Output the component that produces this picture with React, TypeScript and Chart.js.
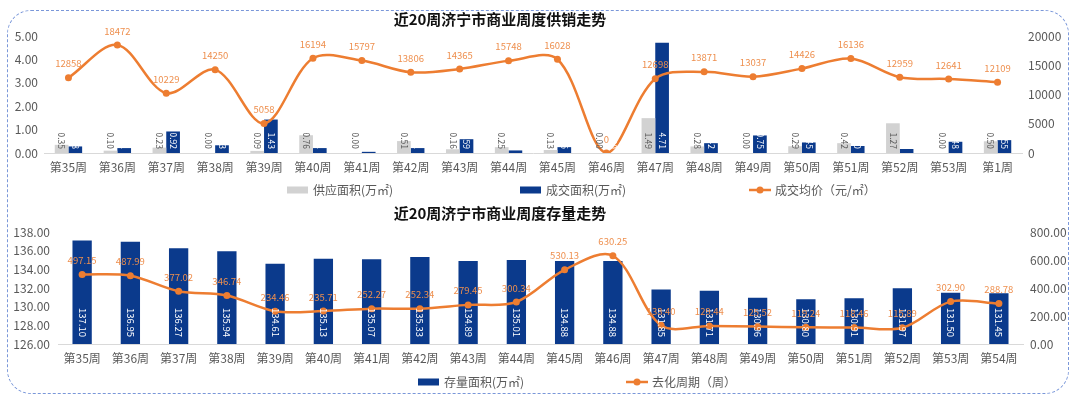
import React, { useEffect, useRef } from "react";
import { Chart, registerables } from "chart.js";

Chart.register(...registerables);

const FONT = '"Noto Sans CJK SC", "Noto Sans", sans-serif';
Chart.defaults.font.family = FONT;

// ---------- data: top chart ----------
const topWeeks = [
  "第35周", "第36周", "第37周", "第38周", "第39周", "第40周", "第41周", "第42周", "第43周", "第44周",
  "第45周", "第46周", "第47周", "第48周", "第49周", "第50周", "第51周", "第52周", "第53周", "第1周",
];
const supplyArea = [0.35, 0.10, 0.23, 0.00, 0.09, 0.76, 0.00, 0.51, 0.16, 0.25, 0.13, 0.00, 1.49, 0.28, 0.00, 0.29, 0.42, 1.27, 0.00, 0.50];
const dealArea = [0.28, 0.21, 0.92, 0.33, 1.43, 0.21, 0.05, 0.21, 0.59, 0.11, 0.25, 0.00, 4.71, 0.42, 0.75, 0.45, 0.30, 0.17, 0.48, 0.55];
const avgPrice = [12858, 18472, 10229, 14250, 5058, 16194, 15797, 13806, 14365, 15748, 16028, 0, 12698, 13871, 13037, 14426, 16136, 12959, 12641, 12109];

// ---------- data: bottom chart ----------
const bottomWeeks = [
  "第35周", "第36周", "第37周", "第38周", "第39周", "第40周", "第41周", "第42周", "第43周", "第44周",
  "第45周", "第46周", "第47周", "第48周", "第49周", "第50周", "第51周", "第52周", "第53周", "第54周",
];
const stockArea = [137.10, 136.95, 136.27, 135.94, 134.61, 135.13, 135.07, 135.33, 134.89, 135.01, 134.88, 134.88, 131.85, 131.71, 130.96, 130.80, 130.91, 131.97, 131.50, 131.45];
const sellCycle = [497.15, 487.99, 377.02, 346.74, 234.46, 235.71, 252.27, 252.34, 279.45, 300.34, 530.13, 630.25, 133.40, 129.44, 125.52, 119.24, 118.46, 115.89, 302.90, 288.78];

const topTitle = "近20周济宁市商业周度供销走势";
const bottomTitle = "近20周济宁市商业周度存量走势";

const NAVY = "#0B3A8C";
const GRAY = "#D2D2D2";
const ORANGE = "#ED7D31";
const LABEL_ORANGE = "#EE8F4E";
const TEXT = "#595959";

type LabelCfg = {
  kind: "bar" | "line";
  color: string;
  size: number;
  offset: number;
  format: (v: number) => string;
};

function makeLabelPlugin(items: (LabelCfg | null)[]) {
  return {
    id: "valueLabels",
    afterDatasetsDraw(chart: any) {
      const ctx = chart.ctx;
      chart.data.datasets.forEach((ds: any, i: number) => {
        const cfg = items[i];
        if (!cfg) return;
        const meta = chart.getDatasetMeta(i);
        meta.data.forEach((el: any, j: number) => {
          const text = cfg.format(ds.data[j]);
          ctx.save();
          ctx.font = `${cfg.size}px ${FONT}`;
          ctx.fillStyle = cfg.color;
          if (cfg.kind === "bar") {
            ctx.translate(el.x, chart.chartArea.bottom - cfg.offset);
            ctx.rotate(Math.PI / 2);
            ctx.textAlign = "right";
            ctx.textBaseline = "middle";
            ctx.fillText(text, 0, 0);
          } else {
            ctx.textAlign = "center";
            ctx.textBaseline = "middle";
            ctx.fillText(text, el.x, el.y - cfg.offset);
          }
          ctx.restore();
        });
      });
    },
  };
}

type LegendItem = { datasetIndex: number; kind: "box" | "line"; x: number };

function makeDecorPlugin(title: string, titleX: number, titleY: number, legend: LegendItem[], legendY: number) {
  return {
    id: "decor",
    afterDraw(chart: any) {
      const ctx = chart.ctx;
      ctx.save();
      ctx.font = `bold 15px ${FONT}`;
      ctx.fillStyle = "#111111";
      ctx.textAlign = "center";
      ctx.textBaseline = "middle";
      ctx.fillText(title, titleX, titleY);
      ctx.font = `12px ${FONT}`;
      ctx.textAlign = "left";
      legend.forEach((it) => {
        const ds = chart.data.datasets[it.datasetIndex];
        if (it.kind === "box") {
          ctx.fillStyle = ds.backgroundColor;
          ctx.fillRect(it.x, legendY - 3.5, 21, 7);
          ctx.fillStyle = TEXT;
          ctx.fillText(ds.label, it.x + 26, legendY + 0.5);
        } else {
          ctx.strokeStyle = ds.borderColor;
          ctx.lineWidth = 2.5;
          ctx.beginPath();
          ctx.moveTo(it.x, legendY);
          ctx.lineTo(it.x + 22, legendY);
          ctx.stroke();
          ctx.fillStyle = ds.borderColor;
          ctx.beginPath();
          ctx.arc(it.x + 11, legendY, 3.5, 0, Math.PI * 2);
          ctx.fill();
          ctx.fillStyle = TEXT;
          ctx.fillText(ds.label, it.x + 26, legendY + 0.5);
        }
      });
      ctx.restore();
    },
  };
}

const tickFont = { size: 12, family: FONT };

function TopChart() {
  const ref = useRef<HTMLCanvasElement | null>(null);
  useEffect(() => {
    if (!ref.current) return;
    const chart = new Chart(ref.current, {
      type: "bar",
      data: {
        labels: topWeeks,
        datasets: [
          {
            type: "bar",
            label: "供应面积(万㎡)",
            data: supplyArea,
            backgroundColor: GRAY,
            yAxisID: "y",
            order: 1,
            categoryPercentage: 0.56,
            barPercentage: 1,
          },
          {
            type: "bar",
            label: "成交面积(万㎡)",
            data: dealArea,
            backgroundColor: NAVY,
            yAxisID: "y",
            order: 1,
            categoryPercentage: 0.56,
            barPercentage: 1,
          },
          {
            type: "line",
            label: "成交均价（元/㎡）",
            data: avgPrice,
            borderColor: ORANGE,
            backgroundColor: ORANGE,
            borderWidth: 2.5,
            pointRadius: 3.5,
            pointBackgroundColor: ORANGE,
            pointBorderWidth: 0,
            tension: 0.33,
            yAxisID: "y1",
            order: 0,
          },
        ],
      } as any,
      options: {
        responsive: false,
        animation: false,
        layout: { padding: { top: 36, left: 0, right: 0, bottom: 0 } },
        plugins: { legend: { display: false }, title: { display: false }, tooltip: { enabled: false } },
        scales: {
          x: {
            grid: { display: false, drawTicks: false },
            border: { display: true, color: "#D9D9D9", width: 1 },
            ticks: { color: TEXT, font: tickFont, padding: 7, maxRotation: 0, autoSkip: false },
            afterFit: (s: any) => { s.height = 47; },
          },
          y: {
            position: "left",
            min: 0,
            max: 5,
            grid: { display: false, drawTicks: false },
            border: { display: false },
            ticks: { stepSize: 1, color: TEXT, font: tickFont, padding: 6, callback: (v: any) => Number(v).toFixed(2) },
            afterFit: (s: any) => { s.width = 44; },
          },
          y1: {
            position: "right",
            min: 0,
            max: 20000,
            grid: { display: false, drawTicks: false },
            border: { display: false },
            ticks: { stepSize: 5000, color: TEXT, font: tickFont, padding: 6, callback: (v: any) => String(v) },
            afterFit: (s: any) => { s.width = 58; },
          },
        },
      } as any,
      plugins: [
        makeLabelPlugin([
          { kind: "bar", color: TEXT, size: 8.5, offset: 4, format: (v) => v.toFixed(2) },
          { kind: "bar", color: "#FFFFFF", size: 8.5, offset: 4, format: (v) => v.toFixed(2) },
          { kind: "line", color: LABEL_ORANGE, size: 9.5, offset: 14, format: (v) => String(Math.round(v)) },
        ]),
        makeDecorPlugin(topTitle, 500, 19, [
          { datasetIndex: 0, kind: "box", x: 287 },
          { datasetIndex: 1, kind: "box", x: 520 },
          { datasetIndex: 2, kind: "line", x: 749 },
        ], 190),
      ],
    });
    return () => chart.destroy();
  }, []);
  return <canvas ref={ref} width={1080} height={200} style={{ position: "absolute", left: 0, top: 0, width: 1080, height: 200 }} />;
}

function BottomChart() {
  const ref = useRef<HTMLCanvasElement | null>(null);
  useEffect(() => {
    if (!ref.current) return;
    const chart = new Chart(ref.current, {
      type: "bar",
      data: {
        labels: bottomWeeks,
        datasets: [
          {
            type: "bar",
            label: "存量面积(万㎡)",
            data: stockArea,
            backgroundColor: NAVY,
            yAxisID: "y",
            order: 1,
            categoryPercentage: 0.4,
            barPercentage: 1,
          },
          {
            type: "line",
            label: "去化周期（周）",
            data: sellCycle,
            borderColor: ORANGE,
            backgroundColor: ORANGE,
            borderWidth: 2.5,
            pointRadius: 3.5,
            pointBackgroundColor: ORANGE,
            pointBorderWidth: 0,
            tension: 0.33,
            yAxisID: "y1",
            order: 0,
          },
        ],
      } as any,
      options: {
        responsive: false,
        animation: false,
        layout: { padding: { top: 32, left: 0, right: 0, bottom: 0 } },
        plugins: { legend: { display: false }, title: { display: false }, tooltip: { enabled: false } },
        scales: {
          x: {
            grid: { display: false, drawTicks: false },
            border: { display: true, color: "#D9D9D9", width: 1 },
            ticks: { color: TEXT, font: tickFont, padding: 7, maxRotation: 0, autoSkip: false },
            afterFit: (s: any) => { s.height = 55; },
          },
          y: {
            position: "left",
            min: 126,
            max: 138,
            grid: { display: false, drawTicks: false },
            border: { display: false },
            ticks: { stepSize: 2, color: TEXT, font: tickFont, padding: 8, callback: (v: any) => Number(v).toFixed(2) },
            afterFit: (s: any) => { s.width = 58; },
          },
          y1: {
            position: "right",
            min: 0,
            max: 800,
            grid: { display: false, drawTicks: false },
            border: { display: false },
            ticks: { stepSize: 200, color: TEXT, font: tickFont, padding: 7, callback: (v: any) => Number(v).toFixed(2) },
            afterFit: (s: any) => { s.width = 57; },
          },
        },
      } as any,
      plugins: [
        makeLabelPlugin([
          { kind: "bar", color: "#FFFFFF", size: 9.5, offset: 7, format: (v) => v.toFixed(2) },
          { kind: "line", color: LABEL_ORANGE, size: 9.5, offset: 14, format: (v) => v.toFixed(2) },
        ]),
        makeDecorPlugin(bottomTitle, 500, 13, [
          { datasetIndex: 0, kind: "box", x: 418 },
          { datasetIndex: 1, kind: "line", x: 626 },
        ], 182),
      ],
    });
    return () => chart.destroy();
  }, []);
  return <canvas ref={ref} width={1080} height={199} style={{ position: "absolute", left: 0, top: 200, width: 1080, height: 199 }} />;
}

export default function App() {
  return (
    <div style={{ position: "absolute", left: 0, top: 0, width: 1080, height: 399, background: "#FFFFFF", overflow: "hidden" }}>
      <div
        style={{
          position: "absolute",
          left: 7,
          top: 10,
          width: 1062,
          height: 384,
          boxSizing: "border-box",
          border: "1.5px dashed #7A97D9",
          borderRadius: 24,
        }}
      />
      <TopChart />
      <BottomChart />
    </div>
  );
}
